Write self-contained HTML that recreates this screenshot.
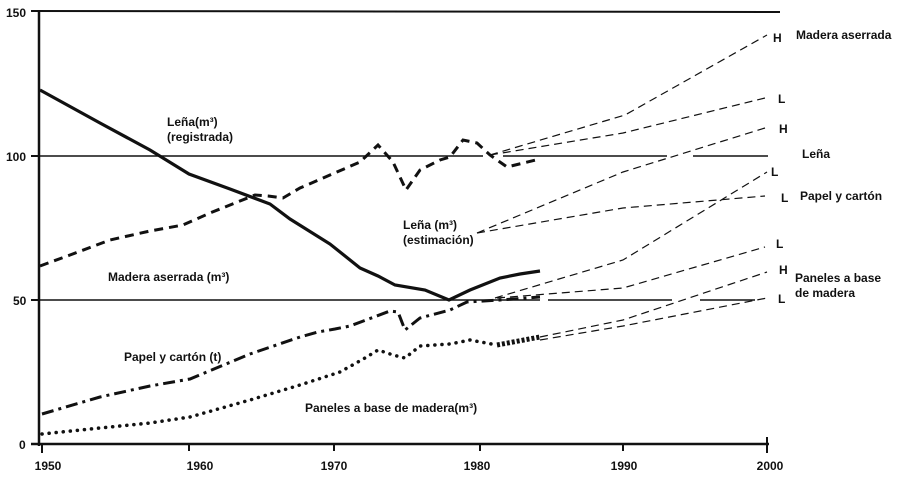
<!DOCTYPE html>
<html><head><meta charset="utf-8"><style>
html,body{margin:0;padding:0;background:#fff;}
svg{display:block;}
text{font-family:"Liberation Sans",Arial,sans-serif;font-weight:bold;font-size:12px;fill:#111;}
</style></head><body>
<svg width="901" height="477" viewBox="0 0 901 477" xmlns="http://www.w3.org/2000/svg">
<g stroke="#111" fill="none">
<!-- axes -->
<line x1="39" y1="11" x2="39" y2="446" stroke-width="2.5"/>
<line x1="31" y1="11" x2="780" y2="12" stroke-width="2"/>
<line x1="31" y1="444" x2="769" y2="444" stroke-width="2.5"/>
<line x1="31" y1="156" x2="39" y2="156" stroke-width="2"/>
<line x1="31" y1="300" x2="39" y2="300" stroke-width="2"/>
<g stroke-width="2">
<line x1="42" y1="444" x2="42" y2="453"/><line x1="189" y1="444" x2="189" y2="451"/>
<line x1="334" y1="444" x2="334" y2="451"/><line x1="480" y1="444" x2="480" y2="451"/>
<line x1="623" y1="444" x2="623" y2="451"/><line x1="767" y1="437" x2="767" y2="453"/>
</g>
<!-- reference lines -->
<g stroke-width="1.6">
<path d="M39 156 H483 M503 156 H667 M693 156 H768"/>
<path d="M39 300 H540 M548 300 H672 M700 300 H755"/>
</g>
<!-- Leña registrada -->
<path d="M40 90 L100 123 L150 150 L189 174 L230 189 L270 204 L290 219 L330 244 L360 268 L378 276 L395 285 L425 290 L449 300 L470 290 L500 278 L520 274 L540 271" stroke-width="3.2"/>
<!-- Madera aserrada -->
<path d="M40 266 L70 255 L110 240 L150 231 L183 225 L210 213 L255 195 L268 196 L283 198 L300 188 L360 162 L378 145 L393 162 L406 190 L420 170 L440 160 L450 157 L463 140 L477 143 L490 155 L507 167 L540 159" stroke-width="3" stroke-dasharray="9,6"/>
<!-- Papel y carton -->
<path d="M42 414 L100 397 L150 386 L190 379 L250 354 L300 337 L318 332 L335 329 L350 326 L390 311 L398 312 L405 330 L420 318 L450 310 L467 302 L500 300 L540 297" stroke-width="3" stroke-dasharray="12,5,3,5"/>
<!-- Paneles -->
<path d="M42 434 L100 428 L150 423 L190 417 L250 400 L300 385 L340 372 L365 358 L378 350 L393 355 L405 358 L420 346 L450 344 L470 340 L497 345" stroke-width="3.5" stroke-dasharray="0.1,7" stroke-linecap="round"/>
<path d="M497 345 L540 337" stroke-width="5" stroke-dasharray="3,2"/>
<!-- projections -->
<g stroke-width="1.2" stroke-dasharray="8,5">
<path d="M490 155 L625 115 L767 35"/>
<path d="M490 155 L623 133 L765 98"/>
<path d="M477 233 L623 172 L765 128"/>
<path d="M477 233 L623 208 L765 196"/>
<path d="M495 298 L623 260 L767 172"/>
<path d="M497 298 L623 288 L765 247"/>
<path d="M540 337 L623 320 L767 272"/>
<path d="M540 340 L623 326 L767 298"/>
</g>
</g>
<!-- axis labels -->
<text x="6" y="17">150</text>
<text x="6" y="161">100</text>
<text x="13" y="305">50</text>
<text x="19" y="449">0</text>
<g text-anchor="middle">
<text x="48" y="470">1950</text><text x="200" y="470">1960</text><text x="334" y="470">1970</text>
<text x="477" y="470">1980</text><text x="624" y="470">1990</text><text x="770" y="470">2000</text>
</g>
<!-- series labels -->
<text x="167" y="126">Leña(m³)</text>
<text x="167" y="141">(registrada)</text>
<text x="108" y="281">Madera aserrada (m³)</text>
<text x="124" y="361">Papel y cartón (t)</text>
<text x="305" y="412">Paneles  a base de madera(m³)</text>
<text x="403" y="229">Leña (m³)</text>
<text x="403" y="244">(estimación)</text>
<!-- right labels -->
<text x="773" y="42">H</text>
<text x="796" y="39">Madera aserrada</text>
<text x="778" y="103">L</text>
<text x="779" y="133">H</text>
<text x="802" y="158">Leña</text>
<text x="771" y="176">L</text>
<text x="781" y="202">L</text>
<text x="800" y="200">Papel y cartón</text>
<text x="776" y="248">L</text>
<text x="779" y="274">H</text>
<text x="795" y="282">Paneles  a base</text>
<text x="795" y="297">de madera</text>
<text x="778" y="303">L</text>
</svg>
</body></html>
